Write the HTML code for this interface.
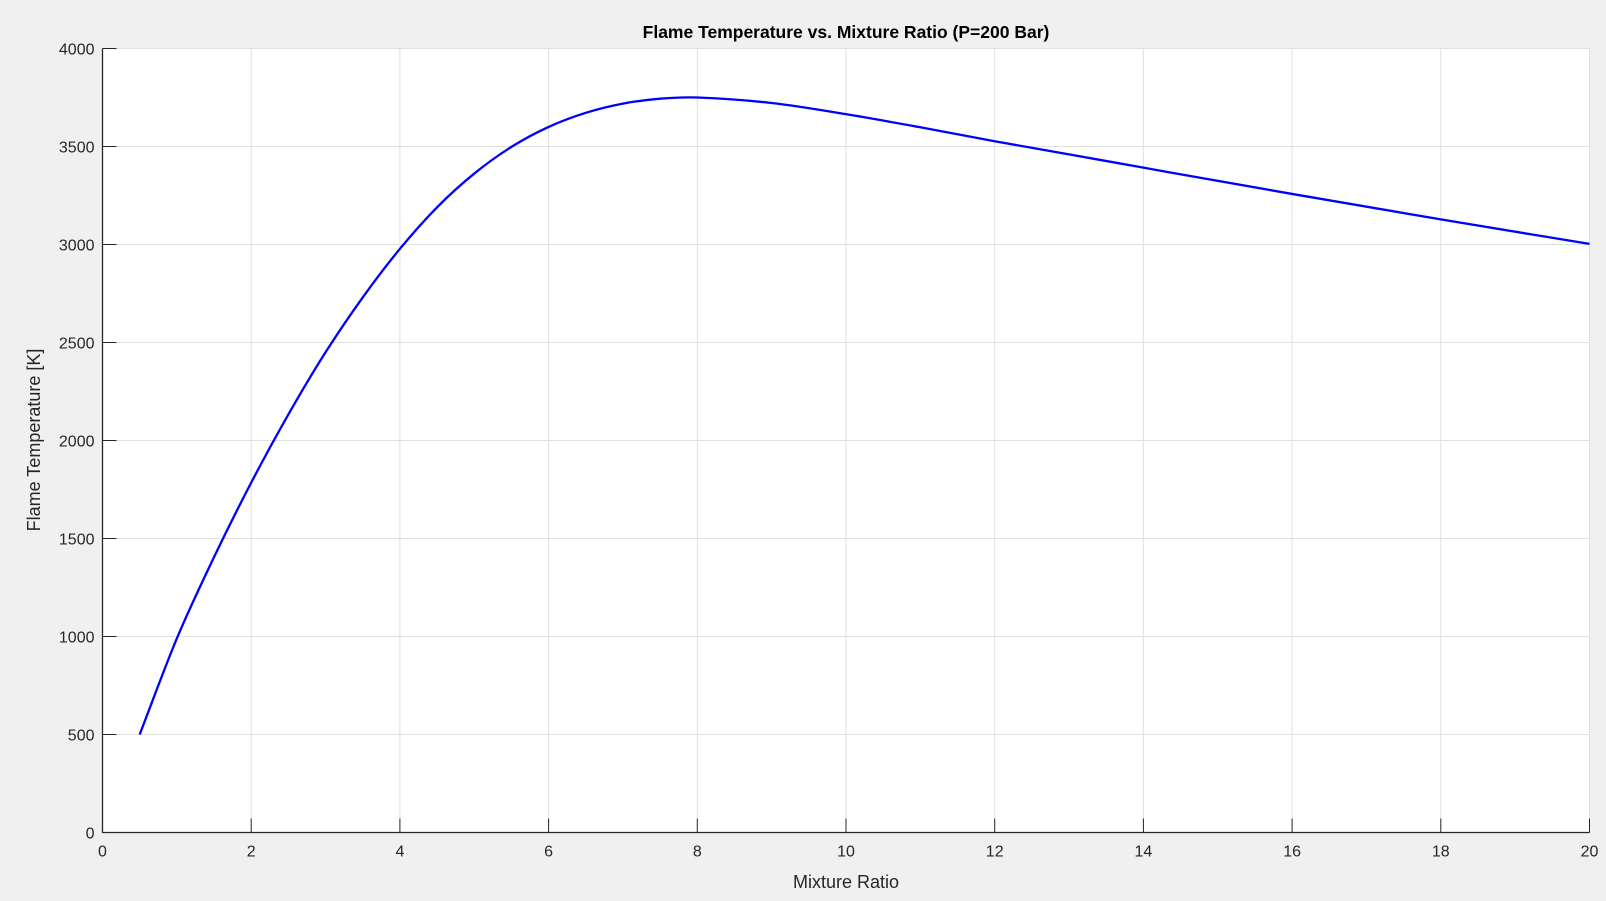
<!DOCTYPE html>
<html><head><meta charset="utf-8"><style>
html,body{margin:0;padding:0;background:#f0f0f0;}
svg{display:block;font-family:"Liberation Sans",Arial,sans-serif;}
</style></head><body>
<svg id="chart" width="1606" height="901" viewBox="0 0 1606 901" xmlns="http://www.w3.org/2000/svg">
<rect x="0" y="0" width="1606" height="901" fill="#f0f0f0"/>
<rect x="102.5" y="48.5" width="1487" height="784" fill="#fff"/>
<g id="grid"></g><g id="axes"></g><g id="series"></g>
<text x="846" y="38" text-anchor="middle" font-size="17.5" font-weight="bold" fill="#000">Flame Temperature vs. Mixture Ratio (P=200 Bar)</text>
<text x="846" y="888" text-anchor="middle" font-size="18" fill="#262626">Mixture Ratio</text>
<text transform="translate(40,440) rotate(-90)" text-anchor="middle" font-size="18" fill="#262626">Flame Temperature [K]</text>
</svg>
<script>
const mixtureRatio=[0.5,1,1.5,2,2.5,3,3.5,4,4.5,5,5.5,6,6.5,7,7.5,8,9,10,11,12,13,14,16,18,20];
const flameTemp=[500,990,1405,1785,2133,2450,2730,2978,3190,3362,3498,3600,3672,3719,3744,3750,3722,3665,3598,3527,3460,3392,3258,3128,3003];
const xTicks=[0,2,4,6,8,10,12,14,16,18,20];
const yTicks=[0,500,1000,1500,2000,2500,3000,3500,4000];
const L=102.5,R=1589.5,T=48.5,B=832.5;
const xs=v=>L+(v-0)/(20-0)*(R-L);
const ys=v=>B-(v-0)/(4000-0)*(B-T);
const NS="http://www.w3.org/2000/svg";
function mk(tag,attrs,parent){const e=document.createElementNS(NS,tag);for(const k in attrs)e.setAttribute(k,attrs[k]);parent.appendChild(e);return e;}
const grid=document.getElementById('grid'),axes=document.getElementById('axes'),series=document.getElementById('series');
xTicks.forEach(t=>{const x=xs(t);
 const g=mk('line',{x1:x,x2:x,y1:T,y2:B,stroke:'#dfdfdf','stroke-width':1},grid);
 
 
 const tk=mk('line',{x1:x,x2:x,y1:B,y2:B-14,stroke:'#262626','stroke-width':1},axes);
 
 
 const lb=mk('text',{x:x,y:B+24,'text-anchor':'middle','font-size':16,fill:'#262626'},axes);lb.textContent=t;
 
 
});
yTicks.forEach(t=>{const y=ys(t);
 const g=mk('line',{x1:L,x2:R,y1:y,y2:y,stroke:'#dfdfdf','stroke-width':1},grid);
 
 
 const tk=mk('line',{x1:L,x2:L+14,y1:y,y2:y,stroke:'#262626','stroke-width':1},axes);
 
 
 const lb=mk('text',{x:L-8,y:y+6,'text-anchor':'end','font-size':16,fill:'#262626'},axes);lb.textContent=t;
 
 
});
const ax=mk('path',{d:`M${L},${T}V${B}H${R}`,fill:'none',stroke:'#262626','stroke-width':1.3},axes);


const P=mixtureRatio.map((m,i)=>[xs(m),ys(flameTemp[i])]);
let d=`M${P[0][0]},${P[0][1]}`;
for(let i=0;i<P.length-1;i++){const p0=P[Math.max(i-1,0)],p1=P[i],p2=P[i+1],p3=P[Math.min(i+2,P.length-1)];
 const h=p2[0]-p1[0];
 const m1=(p2[1]-p0[1])/(p2[0]-p0[0]||1), m2=(p3[1]-p1[1])/(p3[0]-p1[0]||1);
 const c1=[p1[0]+h/3,p1[1]+m1*h/3],c2=[p2[0]-h/3,p2[1]-m2*h/3];
 d+=`C${c1[0]},${c1[1]} ${c2[0]},${c2[1]} ${p2[0]},${p2[1]}`;}
const line=mk('path',{d:d,fill:'none',stroke:'#0000ff','stroke-width':2.3},series);


</script>
</body></html>
